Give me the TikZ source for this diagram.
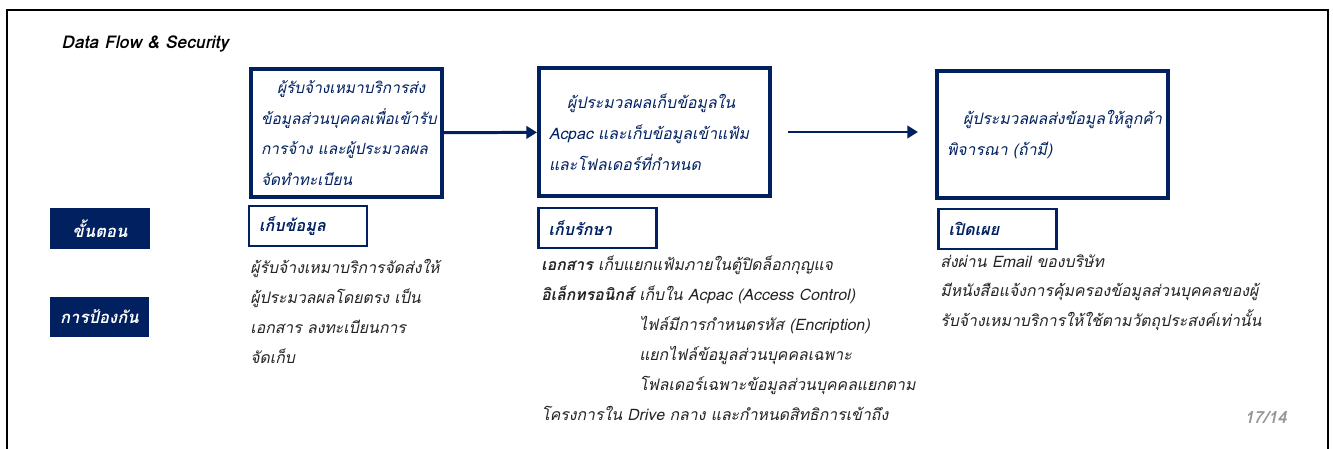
\documentclass[tikz,border=0pt]{standalone}
\usepackage{fontspec}
\setmainfont{Loma}[Script=Thai, ItalicFont={Loma Oblique}, BoldItalicFont={Loma Bold Oblique}]
\usetikzlibrary{arrows.meta}
\definecolor{navy}{RGB}{0,32,96}
\definecolor{bodytext}{RGB}{35,35,35}
\definecolor{pagegray}{RGB}{150,150,150}

\begin{document}
\begin{tikzpicture}[x=0.02cm, y=-0.02cm,
    every node/.style={font=\fontsize{9}{17.5}\selectfont\itshape},
    flowbox/.style={draw=navy, line width=2.3pt, text=navy, inner xsep=0.2cm, align=left},
    rowlabel/.style={fill=navy, text=white, font=\fontsize{9.5}{12}\selectfont\bfseries\itshape,
        minimum width=2cm, minimum height=0.81cm},
    stagebox/.style={draw=navy, line width=1.5pt, text=navy, inner xsep=0.2cm, align=left,
        text width=1.96cm, minimum height=0.8cm, font=\fontsize{9.2}{12}\selectfont\bfseries\itshape},
    bodycol/.style={text=bodytext, inner sep=0pt, align=left, anchor=north west, font=\fontsize{9}{17}\selectfont\itshape},
    flowarrow/.style={draw=navy, line width=1.7pt, -{Triangle[length=6pt,width=7pt]}}]
    \useasboundingbox (0,0) rectangle (1333,449);
    % page frame
    \draw[line width=1.1pt] (7,449) -- (7,10) -- (1328,10) -- (1328,449);
    \draw (61,44) node[anchor=west, inner sep=0pt, font=\fontsize{10}{12}\selectfont\bfseries\itshape] (title) {Data Flow \& Security};

    % flow
    \draw (346.5,133) node[flowbox, text width=3.42cm, minimum height=2.56cm, font=\fontsize{8.8}{17.5}\selectfont\itshape] (collect)
        {\hspace*{0.32cm}ผู้รับจ้างเหมาบริการส่ง\\ข้อมูลส่วนบุคคลเพื่อเข้ารับ\\การจ้าง และผู้ประมวลผล\\จัดทำทะเบียน};
    \draw (654.5,132) node[flowbox, text width=4.22cm, minimum height=2.56cm] (store)
        {\hspace*{0.36cm}ผู้ประมวลผลเก็บข้อมูลใน\\Acpac และเก็บข้อมูลเข้าแฟ้ม\\และโฟลเดอร์ที่กำหนด};
    \draw (1052.5,134.5) node[flowbox, text width=4.22cm, minimum height=2.54cm] (disclose)
        {\hspace*{0.32cm}ผู้ประมวลผลส่งข้อมูลให้ลูกค้า\\พิจารณา (ถ้ามี)};
    \draw[flowarrow] (collect) -- (store);
    \draw[flowarrow, shorten <=0.32cm, shorten >=0.34cm] (store.east) -- (store.east -| disclose.west);

    % rows
    \draw (100,228.5) node[rowlabel] (steps) {ขั้นตอน};
    \draw (99.5,317) node[rowlabel] (protect) {การป้องกัน};

    \draw (308,226) node[stagebox] (stcollect) {เก็บข้อมูล};
    \draw (597.5,228) node[stagebox] (ststore) {เก็บรักษา};
    \draw (997.5,229) node[stagebox] (stdisclose) {เปิดเผย};

    \draw (250,259) node[bodycol] (txcollect)
        {ผู้รับจ้างเหมาบริการจัดส่งให้\\ผู้ประมวลผลโดยตรง เป็น\\เอกสาร ลงทะเบียนการ\\จัดเก็บ};
    \draw (541,256) node[bodycol] (txstore)
        {\textbf{เอกสาร} เก็บแยกแฟ้มภายในตู้ปิดล็อกกุญแจ\\
         \textbf{อิเล็กทรอนิกส์} เก็บใน Acpac (Access Control)\\
         \phantom{\textbf{อิเล็กทรอนิกส์} }ไฟล์มีการกำหนดรหัส (Encription)\\
         \phantom{\textbf{อิเล็กทรอนิกส์} }แยกไฟล์ข้อมูลส่วนบุคคลเฉพาะ\\
         \phantom{\textbf{อิเล็กทรอนิกส์} }โฟลเดอร์เฉพาะข้อมูลส่วนบุคคลแยกตาม\\
         โครงการใน Drive กลาง และกำหนดสิทธิการเข้าถึง};
    \draw (940,254) node[bodycol] (txdisclose)
        {ส่งผ่าน Email ของบริษัท\\มีหนังสือแจ้งการคุ้มครองข้อมูลส่วนบุคคลของผู้\\รับจ้างเหมาบริการให้ใช้ตามวัตถุประสงค์เท่านั้น};

    \draw (1287,418) node[anchor=east, inner sep=0pt, text=pagegray, font=\fontsize{9.5}{10}\selectfont\bfseries\itshape] (pagenum) {17/14};
\end{tikzpicture}
\end{document}
